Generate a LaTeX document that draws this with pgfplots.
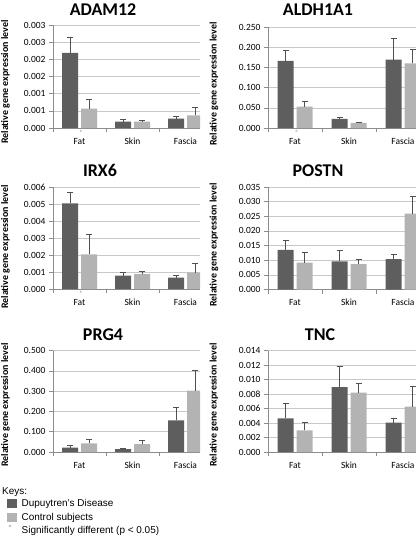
\documentclass[border=0pt]{standalone}
\usepackage{pgfplots}
\pgfplotsset{compat=1.18}
\usepackage{fontspec}
\setmainfont{Carlito}
\newfontfamily\arialfont{Liberation Sans}
\definecolor{dd}{HTML}{5E5E5E}
\definecolor{ctrl}{HTML}{B3B3B3}
\definecolor{errc}{HTML}{505050}
\definecolor{axc}{HTML}{8C8C8C}
\definecolor{gridc}{HTML}{C8C8C8}
\definecolor{astc}{HTML}{909090}

\pgfplotsset{
  panel/.style={
    scale only axis,
    ybar=3bp, bar width=16bp,
    xmin=-0.5, ymin=0,
    xtick={0,1,2}, xticklabels={Fat,Skin,Fascia},
    minor xtick={-0.5,0.5,1.5,2.5},
    axis x line*=bottom, axis y line*=left,
    axis line style={axc, line width=0.6bp, -},
    ymajorgrids, grid style={gridc, line width=0.6bp},
    tick align=outside, major tick length=4bp, minor tick length=4bp,
    tick style={axc, line width=0.6bp},
    major x tick style={draw=none},
    tick label style={font=\fontsize{9.5}{11}\selectfont, text=black},
    xticklabel style={anchor=base, yshift=-12bp, inner sep=0.5bp},
    scaled y ticks=false,
    clip mode=individual,
    error bars/y dir=plus, error bars/y explicit,
    error bars/error bar style={errc, line width=0.9bp},
    error bars/error mark options={errc, rotate=90, mark size=3bp, line width=0.9bp},
  },
  ddbar/.style={fill=dd, draw=none},
  ctbar/.style={fill=ctrl, draw=none},
}
\tikzset{ast/.style={font=\fontsize{7.5}{8}\selectfont, text=astc, inner sep=0pt, anchor=north}}
\newcommand{\ttl}{\fontsize{18}{20}\bfseries}
\newcommand{\ylab}{\fontsize{10}{12}\bfseries}

\begin{document}
\begin{tikzpicture}
\useasboundingbox (0,0) rectangle (416bp,-535bp);
\clip (0,0) rectangle (416bp,-535bp);

% ---------- ADAM12
\begin{axis}[panel, anchor=south west, at={(53bp,-128bp)},
  width=147bp, height=103bp, xmax=2.2736, ymax=0.003,
  ytick={0,0.0005,0.001,0.0015,0.002,0.0025,0.003},
  yticklabels={0.000,0.001,0.001,0.002,0.002,0.003,0.003}]
\addplot[ddbar] coordinates {(0,0.00219) +- (0,0.00044) (1,0.000185) +- (0,0.000065) (2,0.000273) +- (0,0.000057)};
\addplot[ctbar] coordinates {(0,0.000565) +- (0,0.000265) (1,0.000185) +- (0,0.00004) (2,0.00037) +- (0,0.000225)};
\node[ast] at (axis cs:0,0) [yshift=-2bp, xshift=1.5bp] {*};
\end{axis}

% ---------- ALDH1A1
\begin{axis}[panel, anchor=south west, at={(268bp,-128bp)},
  width=148bp, height=101bp, xmax=2.2407, ymax=0.25,
  ytick={0,0.05,0.1,0.15,0.2,0.25},
  yticklabels={0.000,0.050,0.100,0.150,0.200,0.250}]
\addplot[ddbar] coordinates {(0,0.166) +- (0,0.025) (1,0.0223) +- (0,0.0033) (2,0.169) +- (0,0.052)};
\addplot[ctbar] coordinates {(0,0.0528) +- (0,0.014) (1,0.0124) +- (0,0.0025) (2,0.160) +- (0,0.034)};
\node[ast] at (axis cs:0,0) [yshift=-2bp, xshift=1.5bp] {*};
\end{axis}

% ---------- IRX6
\begin{axis}[panel, anchor=south west, at={(53bp,-289bp)},
  width=147bp, height=102bp, xmax=2.2736, ymax=0.006,
  ytick={0,0.001,0.002,0.003,0.004,0.005,0.006},
  yticklabels={0.000,0.001,0.002,0.003,0.004,0.005,0.006}]
\addplot[ddbar] coordinates {(0,0.00504) +- (0,0.00065) (1,0.00079) +- (0,0.00017) (2,0.00067) +- (0,0.00014)};
\addplot[ctbar] coordinates {(0,0.00203) +- (0,0.00116) (1,0.00087) +- (0,0.00019) (2,0.00096) +- (0,0.00054)};
\node[ast] at (axis cs:0,0) [yshift=-2bp, xshift=1.5bp] {*};
\end{axis}

% ---------- POSTN
\begin{axis}[panel, anchor=south west, at={(268bp,-289.5bp)},
  width=148bp, height=102.5bp, xmax=2.2407, ymax=0.035,
  ytick={0,0.005,0.01,0.015,0.02,0.025,0.03,0.035},
  yticklabels={0.000,0.005,0.010,0.015,0.020,0.025,0.030,0.035}]
\addplot[ddbar] coordinates {(0,0.0135) +- (0,0.0033) (1,0.0096) +- (0,0.0039) (2,0.0104) +- (0,0.0017)};
\addplot[ctbar] coordinates {(0,0.0092) +- (0,0.0036) (1,0.0087) +- (0,0.0017) (2,0.0259) +- (0,0.0059)};
\end{axis}

% ---------- PRG4
\begin{axis}[panel, anchor=south west, at={(53bp,-452bp)},
  width=147bp, height=101.5bp, xmax=2.2736, ymax=0.5,
  ytick={0,0.1,0.2,0.3,0.4,0.5},
  yticklabels={0.000,0.100,0.200,0.300,0.400,0.500}]
\addplot[ddbar] coordinates {(0,0.021) +- (0,0.010) (1,0.014) +- (0,0.003) (2,0.156) +- (0,0.065)};
\addplot[ctbar] coordinates {(0,0.042) +- (0,0.022) (1,0.039) +- (0,0.018) (2,0.302) +- (0,0.102)};
\end{axis}

% ---------- TNC
\begin{axis}[panel, anchor=south west, at={(268bp,-452bp)},
  width=148bp, height=101.5bp, xmax=2.2407, ymax=0.014,
  ytick={0,0.002,0.004,0.006,0.008,0.01,0.012,0.014},
  yticklabels={0.000,0.002,0.004,0.006,0.008,0.010,0.012,0.014}]
\addplot[ddbar] coordinates {(0,0.00464) +- (0,0.0020) (1,0.00895) +- (0,0.00283) (2,0.00404) +- (0,0.00065)};
\addplot[ctbar] coordinates {(0,0.00297) +- (0,0.00116) (1,0.0082) +- (0,0.0012) (2,0.00625) +- (0,0.00275)};
\end{axis}

% titles
\node[font=\ttl, anchor=base] at (103bp,-15bp) {ADAM12};
\node[font=\ttl, anchor=base] at (318bp,-15bp) {ALDH1A1};
\node[font=\ttl, anchor=base] at (100bp,-176.5bp) {IRX6};
\node[font=\ttl, anchor=base] at (318bp,-176.5bp) {POSTN};
\node[font=\ttl, anchor=base] at (103bp,-340bp) {PRG4};
\node[font=\ttl, anchor=base] at (320bp,-340bp) {TNC};

% y labels
\node[font=\ylab, rotate=90] at (5.5bp,-82bp) {Relative gene expression level};
\node[font=\ylab, rotate=90] at (214bp,-84bp) {Relative gene expression level};
\node[font=\ylab, rotate=90] at (5.5bp,-247bp) {Relative gene expression level};
\node[font=\ylab, rotate=90] at (214bp,-245bp) {Relative gene expression level};
\node[font=\ylab, rotate=90] at (5.5bp,-405bp) {Relative gene expression level};
\node[font=\ylab, rotate=90] at (214bp,-405bp) {Relative gene expression level};

% keys
\node[font=\arialfont\fontsize{10}{12}\selectfont, anchor=base west, inner sep=0] at (2bp,-494bp) {Keys:};
\fill[dd] (7bp,-499bp) rectangle (17bp,-508bp);
\node[font=\arialfont\fontsize{10}{12}\selectfont, anchor=base west, inner sep=0] at (21.5bp,-506bp) {Dupuytren’s Disease};
\fill[ctrl] (7bp,-513bp) rectangle (17bp,-522bp);
\node[font=\arialfont\fontsize{10}{12}\selectfont, anchor=base west, inner sep=0] at (21.5bp,-520bp) {Control subjects};
\node[font=\fontsize{9}{10}\selectfont, text=astc, inner sep=0pt] at (10bp,-528bp) {*};
\node[font=\arialfont\fontsize{10}{12}\selectfont, anchor=base west, inner sep=0] at (21.5bp,-533bp) {Significantly different (p < 0.05)};
\end{tikzpicture}
\end{document}
